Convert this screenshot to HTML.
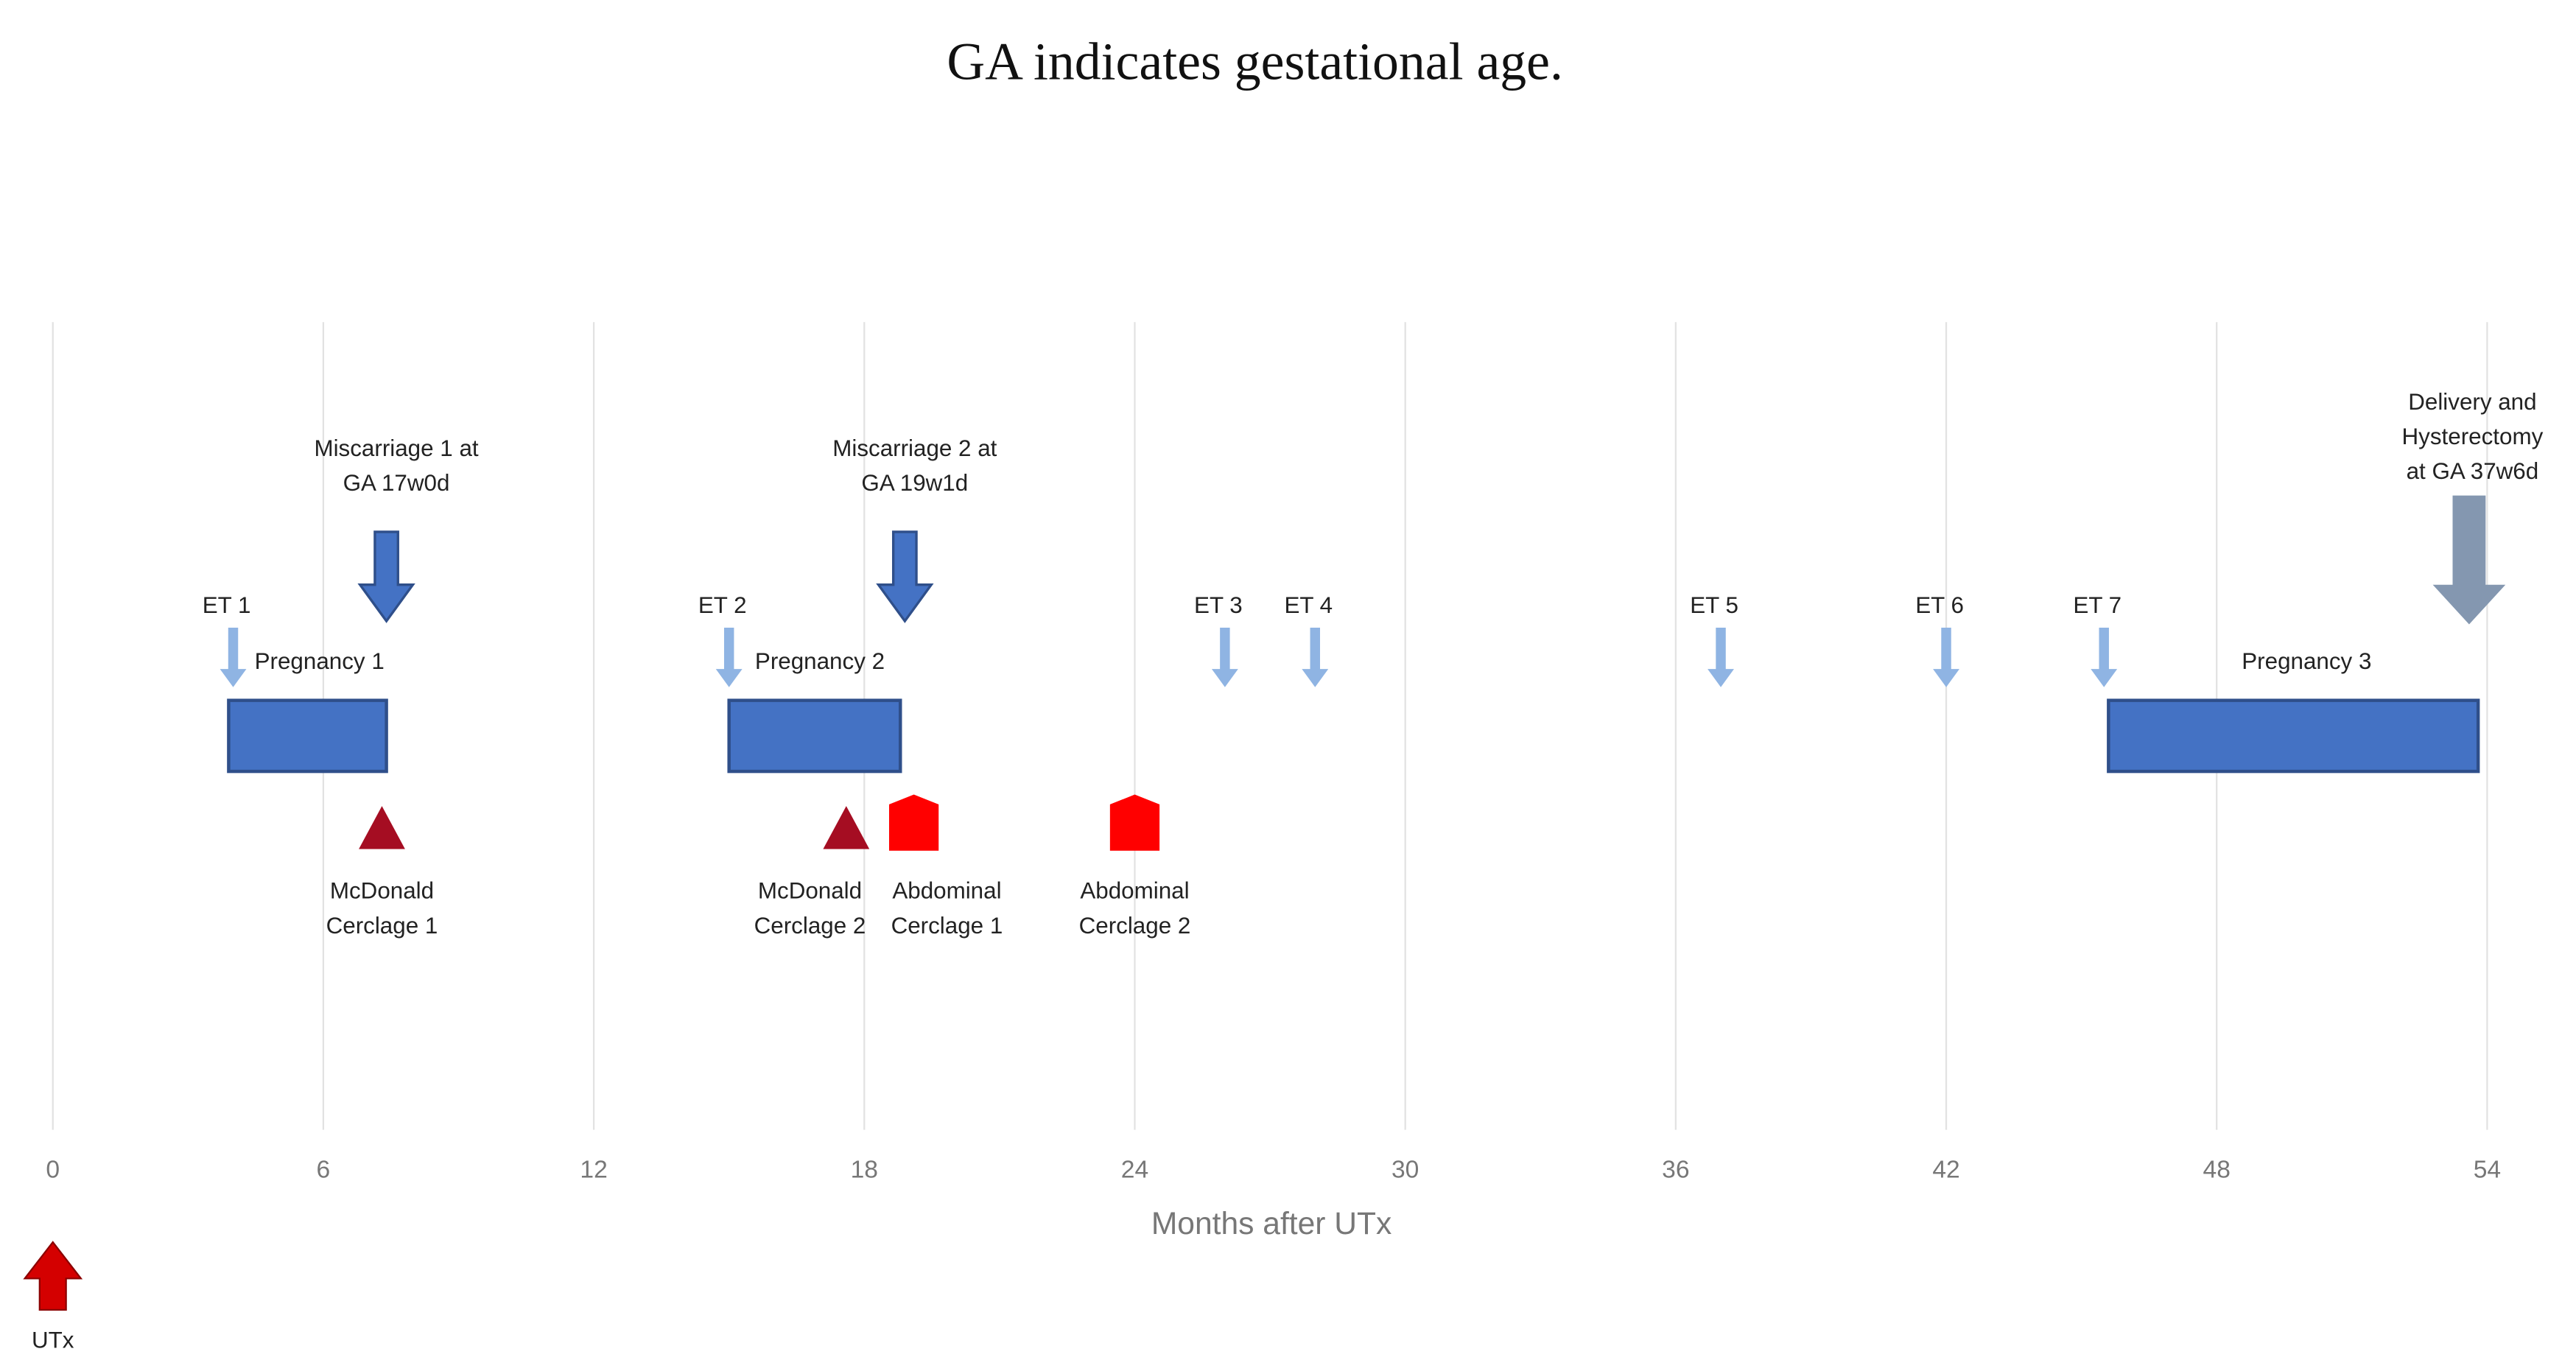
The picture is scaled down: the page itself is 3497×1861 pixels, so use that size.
<!DOCTYPE html>
<html><head><meta charset="utf-8"><style>
html,body{margin:0;padding:0;background:#fff;}
svg{display:block;}
text{font-family:"Liberation Sans Narrow","Liberation Sans",sans-serif;fill:#222;}
</style></head><body>
<svg id="chart" width="3497" height="1861" viewBox="0 0 1560 830" preserveAspectRatio="none" xmlns="http://www.w3.org/2000/svg">
<text x="760" y="48" text-anchor="middle" style="font-family:'Liberation Serif',serif;font-size:32px;fill:#111">GA indicates gestational age.</text>
<g id="grid"></g><g id="marks"></g>
<text x="770" y="747" text-anchor="middle" style="font-size:19px;fill:#777">Months after UTx</text>
</svg>
<script>
const ticks=[0,6,12,18,24,30,36,42,48,54];
const pregStart=[3.9,15.0,45.6];
const pregEnd=[7.4,18.8,53.8];
const pregLabels=["Pregnancy 1","Pregnancy 2","Pregnancy 3"];
const etMonths=[4.0,15.0,26.0,28.0,37.0,42.0,45.5];
const etLabels=["ET 1","ET 2","ET 3","ET 4","ET 5","ET 6","ET 7"];
const miscMonths=[7.4,18.9];
const miscLabels=[["Miscarriage 1 at","GA 17w0d"],["Miscarriage 2 at","GA 19w1d"]];
const mcdMonths=[7.3,17.6];
const mcdLabels=[["McDonald","Cerclage 1"],["McDonald","Cerclage 2"]];
const abdMonths=[19.1,24.0];
const abdLabels=[["Abdominal","Cerclage 1"],["Abdominal","Cerclage 2"]];
const deliveryMonth=53.6;
const x=m=>32+m*27.3;
const NS="http://www.w3.org/2000/svg";
const grid=document.getElementById('grid'),marks=document.getElementById('marks');
function mk(tag,attrs,parent){const e=document.createElementNS(NS,tag);for(const k in attrs)e.setAttribute(k,attrs[k]);parent.appendChild(e);return e;}
function txt(lines,cx,y,parent,size,lh){const t=mk('text',{x:cx,y:y,'text-anchor':'middle'},parent);t.style.fontSize=size+'px';lines.forEach((l,i)=>{const s=mk('tspan',{x:cx,dy:i?lh:0},t);s.textContent=l;});return t;}
ticks.forEach(t=>{
 const l=mk('line',{x1:x(t),x2:x(t),y1:195,y2:684,stroke:'#e2e2e2','stroke-width':1},grid);
 
 
 const tl=txt([String(t)],x(t),713,grid,15,0);tl.style.fill='#777';
 
 
});
pregStart.forEach((s,i)=>{
 const r=mk('rect',{x:x(s),y:424,width:x(pregEnd[i])-x(s),height:43,fill:'#4472c4',stroke:'#2f4f8a','stroke-width':2},marks);
 
 
 const tl=txt([pregLabels[i]],(i==2?x(s)+120:x(s)+55),405,marks,14,0);
 
 
});
etMonths.forEach((m,i)=>{
 const c=x(m);
 const a=mk('polygon',{points:`${c-3},380 ${c+3},380 ${c+3},405 ${c+8},405 ${c},416 ${c-8},405 ${c-3},405`,fill:'#8fb4e3'},marks);
 
 
 const tl=txt([etLabels[i]],c-4,371,marks,14,0);
 
 
});
miscMonths.forEach((m,i)=>{
 const c=x(m);
 const a=mk('polygon',{points:`${c-7},322 ${c+7},322 ${c+7},354 ${c+16},354 ${c},376 ${c-16},354 ${c-7},354`,fill:'#4472c4',stroke:'#2f4f8a','stroke-width':1.5},marks);
 
 
 const tl=txt(miscLabels[i],c+6,276,marks,14,21);
 
 
});
(function(){const c=x(deliveryMonth);
 const a=mk('polygon',{points:`${c-10},300 ${c+10},300 ${c+10},354 ${c+22},354 ${c},378 ${c-22},354 ${c-10},354`,fill:'#8497b0'},marks);
 
 
 const tl=txt(["Delivery and","Hysterectomy","at GA 37w6d"],c+2,248,marks,14,21);
 
 })();
mcdMonths.forEach((m,i)=>{
 const c=x(m);
 const a=mk('polygon',{points:`${c},488 ${c+14},514 ${c-14},514`,fill:'#a50d22'},marks);
 
 
 const tl=txt(mcdLabels[i],(i==0?c:c-22),544,marks,14,21);
 
 
});
abdMonths.forEach((m,i)=>{
 const c=x(m);
 const a=mk('polygon',{points:`${c},481 ${c+15},487 ${c+15},515 ${c-15},515 ${c-15},487`,fill:'#ff0000'},marks);
 
 
 const tl=txt(abdLabels[i],c+20*(i==0?1:0),544,marks,14,21);
 
 
});
(function(){const c=x(0);
 const a=mk('polygon',{points:`${c},752 ${c+17},774 ${c+8},774 ${c+8},793 ${c-8},793 ${c-8},774 ${c-17},774`,fill:'#d40000',stroke:'#8b0000','stroke-width':1},marks);
 
 
 const tl=txt(["UTx"],c,816,marks,14,0);
 
 })();
</script>
</body></html>
